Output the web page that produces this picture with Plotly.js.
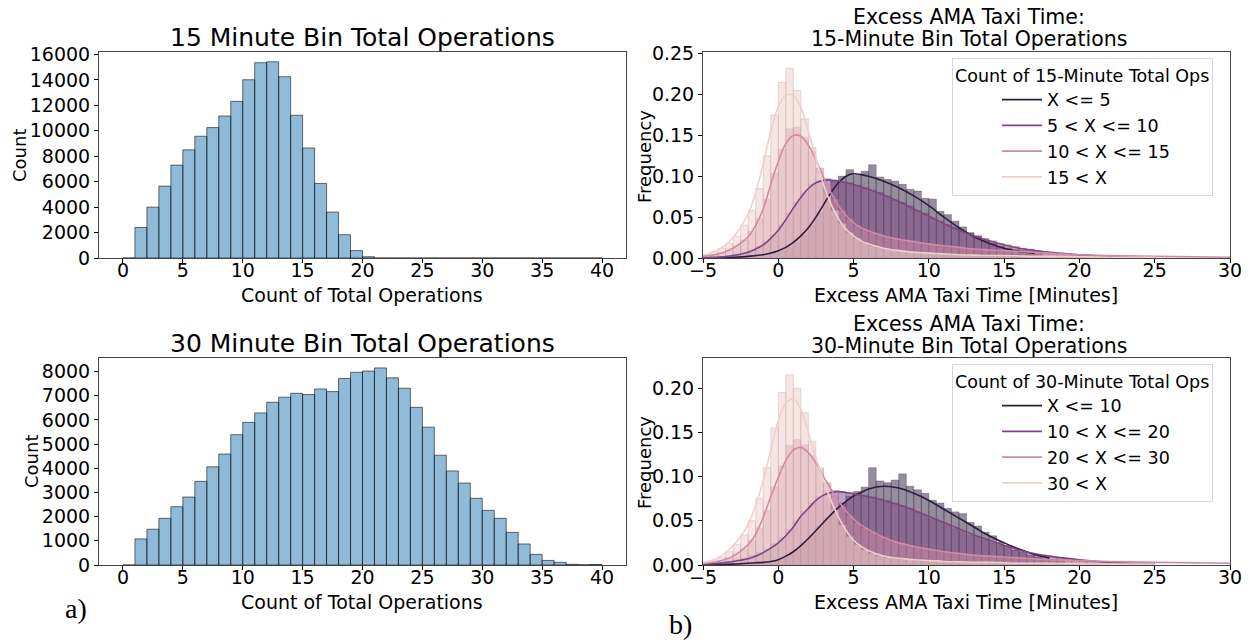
<!DOCTYPE html>
<html>
<head>
<meta charset="utf-8">
<script src="https://cdn.plot.ly/plotly-3.0.1.min.js"></script>
<style>html,body{margin:0;padding:0;background:#fff}#chart{width:1250px;height:640px}</style>
</head>
<body>
<div id="chart"></div>
<script>
// ---------- a) operation count histograms (bin width 1) ----------
const opsBinCenters = [0.5,1.5,2.5,3.5,4.5,5.5,6.5,7.5,8.5,9.5,10.5,11.5,12.5,13.5,14.5,15.5,16.5,17.5,18.5,19.5,20.5,21.5,22.5,23.5,24.5,25.5,26.5,27.5,28.5,29.5,30.5,31.5,32.5,33.5,34.5,35.5,36.5,37.5,38.5,39.5];
const counts15 = [0,2400,4000,5650,7300,8500,9570,10250,11160,12310,14010,15350,15420,14250,11220,8650,5860,3610,1830,580,100,0,0,0,0,0,0,0,0,0,0,0,0,0,0,0,0,0,0,0];
const counts30 = [0,1080,1480,1930,2410,2810,3460,4060,4590,5390,5900,6290,6730,6940,7100,7050,7280,7170,7710,7970,8020,8150,7740,7310,6520,5700,4540,3890,3390,2760,2260,1930,1350,870,440,190,110,30,10,20];

// ---------- b) excess taxi time histograms (bin width 0.5) ----------
const taxiBinCenters = [-4.75,-4.25,-3.75,-3.25,-2.75,-2.25,-1.75,-1.25,-0.75,-0.25,0.25,0.75,1.25,1.75,2.25,2.75,3.25,3.75,4.25,4.75,5.25,5.75,6.25,6.75,7.25,7.75,8.25,8.75,9.25,9.75,10.25,10.75,11.25,11.75,12.25,12.75,13.25,13.75,14.25,14.75,15.25,15.75,16.25,16.75,17.25,17.75,18.25,18.75,19.25,19.75,20.25,20.75,21.25,21.75];

const labels15 = ['X <= 5','5 < X <= 10','10 < X <= 15','15 < X'];
const labels30 = ['X <= 10','10 < X <= 20','20 < X <= 30','30 < X'];

const hist15A = [0,0,0.001,0.001,0.001,0.002,0.002,0.003,0.004,0.006,0.009,0.013,0.019,0.028,0.040,0.055,0.078,0.095,0.100,0.108,0.101,0.106,0.114,0.099,0.096,0.094,0.090,0.084,0.082,0.073,0.072,0.057,0.053,0.045,0.038,0.031,0.027,0.022,0.018,0.014,0.012,0.010,0.009,0.007,0.005,null,null,null,null,null,null,null,null,null];
const hist15B = [0.001,0.001,0.002,0.003,0.005,0.007,0.010,0.014,0.020,0.028,0.040,0.055,0.068,0.080,0.090,0.094,0.097,0.095,0.093,0.092,0.089,0.086,0.083,0.080,0.076,0.071,0.068,0.064,0.058,0.055,0.049,0.045,0.041,0.037,0.033,0.030,0.027,0.024,0.021,0.018,0.016,0.014,0.012,0.011,0.009,0.008,0.007,0.006,0.005,0.004,0.004,0.003,0.003,0.002];
const hist15C = [0.002,0.004,0.006,0.010,0.015,0.022,0.033,0.048,0.072,0.104,0.133,0.158,0.160,0.148,0.130,0.110,0.090,0.072,0.058,0.048,0.040,0.035,0.031,0.028,0.026,0.024,0.022,0.021,0.019,0.018,0.016,0.015,0.014,0.013,0.013,0.012,0.011,0.010,0.010,0.009,0.009,0.008,0.008,0.007,0.007,0.006,0.006,0.005,0.005,0.004,0.004,0.004,0.003,0.003];
const hist15E = [0.004,0.007,0.012,0.018,0.027,0.040,0.058,0.085,0.125,0.175,0.215,0.232,0.205,0.170,0.135,0.105,0.078,0.058,0.042,0.031,0.024,0.019,0.015,0.013,0.011,0.010,0.009,0.008,0.007,0.006,0.006,0.005,0.005,0.004,0.004,0.004,0.003,0.003,0.003,0.003,0.003,0.002,0.002,0.002,0.002,0.002,0.002,0.001,0.001,0.001,0.001,0.001,0.001,0.001];

const hist30A = [0,0,0.001,0.001,0.001,0.002,0.002,0.003,0.003,0.005,0.008,0.012,0.018,0.026,0.034,0.044,0.053,0.061,0.070,0.078,0.083,0.088,0.110,0.095,0.093,0.096,0.103,0.089,0.085,0.081,0.073,0.070,0.064,0.060,0.058,0.048,0.044,0.037,0.033,0.026,0.022,0.017,0.015,0.011,0.009,0.007,0.006,0.005,null,null,null,null,null,null];
const hist30B = [0.001,0.002,0.003,0.004,0.006,0.008,0.011,0.014,0.018,0.024,0.031,0.040,0.050,0.061,0.070,0.077,0.082,0.084,0.083,0.082,0.081,0.079,0.077,0.075,0.073,0.070,0.067,0.064,0.060,0.056,0.052,0.049,0.045,0.041,0.038,0.034,0.031,0.028,0.025,0.022,0.019,0.017,0.015,0.013,0.011,0.010,0.009,0.008,0.007,0.006,0.005,0.004,0.004,0.003];
const hist30C = [0.002,0.003,0.005,0.008,0.012,0.018,0.028,0.042,0.062,0.088,0.112,0.135,0.142,0.136,0.124,0.108,0.093,0.078,0.066,0.056,0.048,0.042,0.038,0.033,0.029,0.026,0.024,0.022,0.020,0.019,0.017,0.016,0.015,0.014,0.013,0.012,0.011,0.011,0.010,0.009,0.009,0.008,0.008,0.007,0.007,0.006,0.006,0.005,0.005,0.005,0.004,0.004,0.004,0.003];
const hist30E = [0.003,0.005,0.009,0.015,0.023,0.034,0.050,0.075,0.110,0.155,0.195,0.215,0.200,0.172,0.140,0.110,0.084,0.062,0.045,0.032,0.023,0.017,0.013,0.010,0.008,0.007,0.006,0.006,0.005,0.005,0.004,0.004,0.004,0.003,0.003,0.003,0.003,0.003,0.002,0.002,0.002,0.002,0.002,0.002,0.002,0.002,0.002,0.001,0.001,0.001,0.001,0.001,0.001,0.001];

// ---------- b) KDE curves ----------
const kdeX = [-5,-4,-3,-2,-1.5,-1,-0.5,0,0.5,1,1.5,2,2.5,3,3.5,4,4.5,5,5.5,6,7,8,9,10,11,12,13,14,15,16,17,18,20,22,25,30];
const kde15A = [0.0002,0.0005,0.001,0.002,0.003,0.004,0.006,0.009,0.013,0.019,0.027,0.037,0.050,0.065,0.080,0.092,0.100,0.103,0.102,0.100,0.094,0.086,0.076,0.064,0.050,0.037,0.026,0.018,0.012,0.008,0.006,null,null,null,null,null];
const kde15B = [0.0005,0.001,0.003,0.007,0.011,0.016,0.024,0.034,0.047,0.061,0.074,0.085,0.092,0.095,0.095,0.094,0.092,0.090,0.087,0.084,0.077,0.069,0.060,0.051,0.042,0.034,0.027,0.021,0.016,0.012,0.009,0.007,0.004,0.002,0.001,null];
const kde15C = [0.002,0.005,0.012,0.026,0.040,0.060,0.090,0.118,0.140,0.150,0.149,0.138,0.120,0.099,0.080,0.064,0.052,0.043,0.037,0.033,0.027,0.023,0.020,0.017,0.015,0.013,0.011,0.010,0.009,0.008,0.007,0.006,0.004,0.003,0.002,0.001];
const kde15E = [0.004,0.010,0.025,0.054,0.080,0.115,0.155,0.185,0.199,0.199,0.184,0.155,0.122,0.090,0.066,0.048,0.035,0.027,0.021,0.017,0.012,0.009,0.007,0.006,0.005,0.004,0.0035,0.003,0.003,0.0025,0.002,0.002,0.0015,0.001,0.001,null];

const kde30A = [0.0002,0.0005,0.001,0.002,0.0025,0.003,0.004,0.006,0.010,0.015,0.022,0.030,0.039,0.048,0.057,0.065,0.072,0.078,0.082,0.086,0.089,0.087,0.081,0.073,0.063,0.053,0.043,0.033,0.025,0.018,0.012,0.008,null,null,null,null];
const kde30B = [0.001,0.002,0.004,0.007,0.010,0.014,0.019,0.025,0.033,0.043,0.055,0.064,0.073,0.079,0.082,0.083,0.082,0.080,0.079,0.077,0.073,0.068,0.062,0.055,0.048,0.041,0.034,0.028,0.022,0.017,0.013,0.010,0.006,0.003,0.0015,null];
const kde30C = [0.002,0.004,0.010,0.023,0.035,0.054,0.077,0.099,0.118,0.130,0.133,0.127,0.115,0.100,0.086,0.072,0.061,0.052,0.045,0.040,0.031,0.025,0.021,0.018,0.015,0.013,0.011,0.010,0.009,0.008,0.007,0.006,0.005,0.004,0.003,0.002];
const kde30E = [0.003,0.008,0.022,0.046,0.068,0.095,0.130,0.163,0.183,0.188,0.176,0.150,0.121,0.096,0.073,0.054,0.039,0.028,0.021,0.016,0.010,0.0075,0.006,0.005,0.004,0.0035,0.003,0.003,0.0025,0.002,0.002,0.0018,0.0015,0.001,0.001,null];

// ---------- styling ----------
const lineColors = ['#2d1e3e','#7d4581','#d08aa7','#efcfcb'];
const fillColors = ['rgba(45,30,62,0.5)','rgba(125,69,129,0.5)','rgba(208,138,167,0.5)','rgba(239,207,203,0.55)'];
const edgeColors = ['rgba(45,30,62,0.55)','rgba(110,70,110,0.45)','rgba(160,110,130,0.45)','rgba(190,160,160,0.6)'];
const FONT = 'DejaVu Sans, Verdana, sans-serif';

const traces = [];
traces.push({type:'bar', x:opsBinCenters, y:counts15, width:1, xaxis:'x', yaxis:'y', showlegend:false,
  marker:{color:'rgba(31,119,180,0.5)', line:{color:'rgba(0,0,0,0.55)', width:1}}, hoverinfo:'x+y'});
traces.push({type:'bar', x:opsBinCenters, y:counts30, width:1, xaxis:'x3', yaxis:'y3', showlegend:false,
  marker:{color:'rgba(31,119,180,0.5)', line:{color:'rgba(0,0,0,0.55)', width:1}}, hoverinfo:'x+y'});

function addPanel(hists, kdes, labels, xa, ya, legendId){
  hists.forEach((h,i)=>{
    traces.push({type:'bar', x:taxiBinCenters, y:h, width:0.5, xaxis:xa, yaxis:ya, showlegend:false,
      marker:{color:fillColors[i], line:{color:edgeColors[i], width:0.6}}, hoverinfo:'x+y'});
  });
  kdes.forEach((k,i)=>{
    traces.push({type:'scatter', mode:'lines', x:kdeX, y:k, xaxis:xa, yaxis:ya, name:labels[i], legend:legendId,
      line:{color:lineColors[i], width:1.6, shape:'spline', smoothing:1}, connectgaps:false});
  });
}
addPanel([hist15A,hist15B,hist15C,hist15E],[kde15A,kde15B,kde15C,kde15E],labels15,'x2','y2','legend');
addPanel([hist30A,hist30B,hist30C,hist30E],[kde30A,kde30B,kde30C,kde30E],labels30,'x4','y4','legend2');

const W = 1250, H = 640;
const px = v => v / W;
const py = v => 1 - v / H;

function xAxis(dom, range, anchor){
  return {domain:dom, range:range, anchor:anchor, dtick:5, tick0:0, ticks:'outside', ticklen:4, tickcolor:'#000',
    ticklabelstandoff:-9,
    showline:true, mirror:true, linecolor:'#444', linewidth:1, showgrid:false, zeroline:false,
    tickfont:{family:FONT, size:19, color:'#000'}};
}
function yAxis(dom, range, anchor, dtick, fmt){
  return {domain:dom, range:range, anchor:anchor, dtick:dtick, tick0:0, ticks:'outside', ticklen:4, tickcolor:'#000',
    showline:true, mirror:true, linecolor:'#444', linewidth:1, showgrid:false, zeroline:false,
    tickformat:fmt, separatethousands:false,
    tickfont:{family:FONT, size:19, color:'#000'}};
}

const leftX = [px(99), px(626)];
const rightX = [px(703), px(1230)];
const topY = [py(258), py(52)];
const botY = [py(565), py(358)];

const legendBase = (yTop, title) => ({
  x: px(952), y: py(yTop), xanchor:'left', yanchor:'top',
  bgcolor:'rgba(255,255,255,0.85)', bordercolor:'#d6d6d6', borderwidth:1,
  font:{family:FONT, size:17.5, color:'#000'},
  title:{text:title, side:'top', font:{family:FONT, size:17.5, color:'#000'}},
  indentation: 44, itemwidth: 40, tracegroupgap:0
});

const ann = (x, y, text, size, family, angle) => ({xref:'paper', yref:'paper', x:px(x), y:py(y), xanchor:'center', yanchor:'middle',
  text:text, showarrow:false, textangle: angle || 0, font:{family:family||FONT, size:size, color:'#000'}});

const layout = {
  width:W, height:H, margin:{l:0,r:0,t:0,b:0}, paper_bgcolor:'#fff', plot_bgcolor:'#fff',
  barmode:'overlay', bargap:0,
  xaxis: xAxis(leftX, [-2,42], 'y'),
  yaxis: yAxis(topY, [0,16190], 'x', 2000, 'd'),
  xaxis2: xAxis(rightX, [-5,30], 'y2'),
  yaxis2: yAxis(topY, [0,0.252], 'x2', 0.05, '.2f'),
  xaxis3: xAxis(leftX, [-2,42], 'y3'),
  yaxis3: yAxis(botY, [0,8560], 'x3', 1000, 'd'),
  xaxis4: xAxis(rightX, [-5,30], 'y4'),
  yaxis4: yAxis(botY, [0,0.234], 'x4', 0.05, '.2f'),
  legend: legendBase(58, 'Count of 15-Minute Total Ops'),
  legend2: legendBase(364, 'Count of 30-Minute Total Ops'),
  annotations: [
    ann(362, 37, '15 Minute Bin Total Operations', 25),
    ann(362, 343, '30 Minute Bin Total Operations', 25),
    ann(969, 17, 'Excess AMA Taxi Time:', 20.5),
    ann(969, 39, '15-Minute Bin Total Operations', 20.5),
    ann(969, 324, 'Excess AMA Taxi Time:', 20.5),
    ann(969, 346, '30-Minute Bin Total Operations', 20.5),
    ann(362, 295, 'Count of Total Operations', 19),
    ann(362, 602, 'Count of Total Operations', 19),
    ann(966, 295, 'Excess AMA Taxi Time [Minutes]', 19),
    ann(966, 602, 'Excess AMA Taxi Time [Minutes]', 19),
    ann(19, 156, 'Count', 18, null, -90),
    ann(31, 462, 'Count', 18, null, -90),
    ann(644, 157, 'Frequency', 18, null, -90),
    ann(644, 463, 'Frequency', 18, null, -90),
    ann(76, 608, 'a)', 28, 'Liberation Serif, Times New Roman, serif'),
    ann(681, 624, 'b)', 28, 'Liberation Serif, Times New Roman, serif')
  ]
};

Plotly.newPlot('chart', traces, layout, {displayModeBar:false, staticPlot:true});
</script>
</body>
</html>
